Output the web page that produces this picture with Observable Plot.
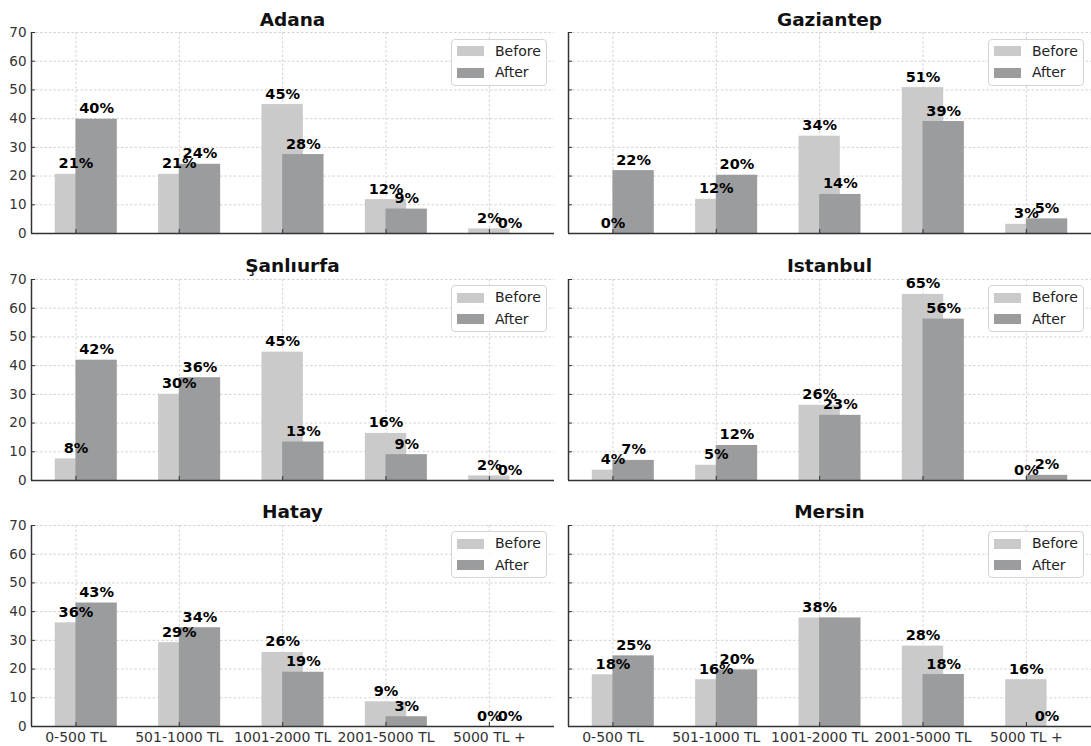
<!DOCTYPE html>
<html>
<head>
<meta charset="utf-8">
<script src="https://cdn.jsdelivr.net/npm/d3@7"></script>
<script src="https://cdn.jsdelivr.net/npm/@observablehq/plot@0.6"></script>
<style>
  html, body { margin: 0; padding: 0; background: #fff; }
  #wrap { position: relative; width: 1091px; height: 746px; overflow: hidden; font-family: "DejaVu Sans", sans-serif; }
  #wrap svg { overflow: visible; }
  .panel { position: absolute; }
  .title { position: absolute; text-align: center; font-weight: bold; font-size: 18.5px; line-height: 18px; color: #111; }
  .legend { position: absolute; box-sizing: border-box; width: 96px; height: 47px; border: 1px solid #d4d4d4; border-radius: 4px; background: rgba(255,255,255,0.85); }
  .legend .row { position: absolute; left: 5px; height: 11px; display: flex; align-items: center; }
  .legend .sw { width: 27px; height: 10px; margin-right: 11px; }
  .legend .lab { font-size: 14px; color: #222; line-height: 11px; }
</style>
</head>
<body>
<div id="wrap"></div>
<script>
// ---- data ----
const categories = ["0-500 TL", "501-1000 TL", "1001-2000 TL", "2001-5000 TL", "5000 TL +"];
const cities = ["Adana", "Gaziantep", "Şanlıurfa", "Istanbul", "Hatay", "Mersin"];
const seriesNames = ["Before", "After"];
const yTicks = [0, 10, 20, 30, 40, 50, 60, 70];

const adanaBefore     = [20.6, 20.6, 44.9, 11.8, 1.6];
const adanaAfter      = [39.8, 24.1, 27.5, 8.5, 0];
const gaziantepBefore = [0, 11.9, 33.9, 50.8, 3.2];
const gaziantepAfter  = [21.9, 20.3, 13.6, 39.0, 5.1];
const sanliurfaBefore = [7.5, 30.0, 44.7, 16.4, 1.6];
const sanliurfaAfter  = [41.9, 35.8, 13.4, 9.0, 0];
const istanbulBefore  = [3.6, 5.3, 26.2, 64.8, 0];
const istanbulAfter   = [7.0, 12.2, 22.7, 56.2, 1.8];
const hatayBefore     = [36.1, 29.2, 25.8, 8.6, 0];
const hatayAfter      = [43.0, 34.4, 18.9, 3.4, 0];
const mersinBefore    = [18.0, 16.3, 37.8, 28.0, 16.3];
const mersinAfter     = [24.6, 19.7, 37.8, 18.1, 0];

const beforeByCity = [adanaBefore, gaziantepBefore, sanliurfaBefore, istanbulBefore, hatayBefore, mersinBefore];
const afterByCity  = [adanaAfter, gaziantepAfter, sanliurfaAfter, istanbulAfter, hatayAfter, mersinAfter];

// ---- style / layout ----
const colors = {Before: "#c9cac9", After: "#9a9c9e"};
const barWidth = 0.4, afterShift = 0.2;
const xDomain = [-0.43, 4.63];
const plotW = 523, plotH = 201;
const colLeft = [31, 568];
const rowTop = [32.3, 278.5, 524.6];
const mTop = 22, mBottom = 26;

const wrap = document.getElementById("wrap");
const fmt = d3.format(".0f");

cities.forEach((city, ci) => {
  const row = Math.floor(ci / 2), col = ci % 2;
  const before = beforeByCity[ci], after = afterByCity[ci];
  const bars = [];
  categories.forEach((cat, i) => {
    bars.push({series: "Before", i, v: before[i], x1: i - barWidth / 2, x2: i + barWidth / 2, xc: i, showLabel: true});
    bars.push({series: "After", i, v: after[i], x1: i - barWidth / 2 + afterShift, x2: i + barWidth / 2 + afterShift, xc: i + afterShift,
               showLabel: !(after[i] > 0 && after[i] === before[i])});
  });
  const mLeft = col === 0 ? 31 : 20;
  const isBottom = row === 2;
  const chart = Plot.plot({
    width: mLeft + plotW,
    height: mTop + plotH + mBottom,
    marginLeft: mLeft, marginRight: 0, marginTop: mTop, marginBottom: mBottom,
    style: {fontFamily: "DejaVu Sans, sans-serif", fontSize: "13.5px", background: "transparent", color: "#333", overflow: "visible"},
    x: {type: "linear", domain: xDomain, axis: null},
    y: {type: "linear", domain: [0, 70], axis: null},
    marks: [
      Plot.ruleY(yTicks, {stroke: "#c8c8c8", strokeWidth: 0.8, strokeDasharray: "2.5,2"}),
      Plot.ruleX(categories.map((c, i) => i), {stroke: "#c8c8c8", strokeWidth: 0.8, strokeDasharray: "2.5,2"}),
      Plot.rectY(bars, {x1: "x1", x2: "x2", y1: 0, y2: "v", fill: d => colors[d.series]}),
      Plot.axisY({ticks: yTicks, tickSize: -4, tickPadding: 9, fontSize: 13.5,
                  tickFormat: col === 0 ? (d => String(d)) : (() => ""), label: null, stroke: "#333"}),
      Plot.axisX({ticks: categories.map((c, i) => i), tickSize: -4, tickPadding: 10, fontSize: 14,
                  tickFormat: isBottom ? (i => categories[i]) : (() => ""), label: null, stroke: "#333"}),
      Plot.ruleX([xDomain[0]], {stroke: "#333", strokeWidth: 1.5}),
      Plot.ruleY([0], {stroke: "#333", strokeWidth: 1.5}),
      Plot.text(bars.filter(d => d.showLabel), {x: "xc", y: "v", text: d => fmt(d.v) + "%", dy: -6, lineAnchor: "bottom",
                  fontWeight: "bold", fontSize: 14.5, fill: "#000"})
    ]
  });
  const holder = document.createElement("div");
  holder.className = "panel";
  holder.style.left = (colLeft[col] - mLeft) + "px";
  holder.style.top = (rowTop[row] - mTop) + "px";
  holder.appendChild(chart);
  wrap.appendChild(holder);

  const t = document.createElement("div");
  t.className = "title";
  t.textContent = city;
  t.style.left = colLeft[col] + "px";
  t.style.width = plotW + "px";
  t.style.top = (rowTop[row] - 21.5) + "px";
  wrap.appendChild(t);

  const lg = document.createElement("div");
  lg.className = "legend";
  lg.style.left = (colLeft[col] + plotW - 7 - 96) + "px";
  lg.style.top = (rowTop[row] + 6.5) + "px";
  seriesNames.forEach((s, k) => {
    const r = document.createElement("div");
    r.className = "row";
    r.style.top = (6 + k * 21.5) + "px";
    const sw = document.createElement("div");
    sw.className = "sw";
    sw.style.background = colors[s];
    const lab = document.createElement("span");
    lab.className = "lab";
    lab.textContent = s;
    r.appendChild(sw); r.appendChild(lab);
    lg.appendChild(r);
  });
  wrap.appendChild(lg);
});
</script>
</body>
</html>
